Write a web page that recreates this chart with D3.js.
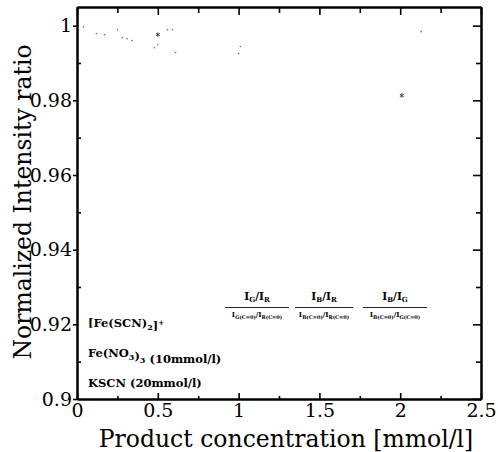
<!DOCTYPE html>
<html>
<head>
<meta charset="utf-8">
<script src="https://cdn.jsdelivr.net/npm/d3@7"></script>
<style>
body { margin: 0; background: #fff; }
svg text { font-family: "DejaVu Serif", serif; fill: #000; }
.axis path, .axis line { stroke: #000; }
.axis path { stroke-width: 2; }
.axis line { stroke-width: 1.6; }
</style>
</head>
<body>
<div id="chart"></div>
<script>
// values
var xTicks = [0, 0.5, 1, 1.5, 2, 2.5],
    xMinor = [0.25, 0.75, 1.25, 1.75, 2.25],
    yTicks = [0.9, 0.92, 0.94, 0.96, 0.98, 1],
    yMinor = [0.91, 0.93, 0.95, 0.97, 0.99];

// faint points that survive in the scan
var dotX = [0.04, 0.12, 0.17, 0.25, 0.28, 0.31, 0.34, 0.48, 0.5, 0.56, 0.59, 0.61, 1.0, 1.01, 2.13],
    dotY = [0.9997, 0.9979, 0.9976, 0.9989, 0.9968, 0.9965, 0.996, 0.9941, 0.9949, 0.9989, 0.9989, 0.9928, 0.9925, 0.9944, 0.9984];
var markX = [0.5, 2.01],
    markY = [0.9976, 0.9813];

var notes = ["[Fe(SCN)2]+", "Fe(NO3)3 (10mmol/l)", "KSCN (20mmol/l)"];
var ratioNum = [["G", "R"], ["B", "R"], ["B", "G"]];

var W = 498, H = 452,
    margin = {top: 7, right: 17, bottom: 53, left: 77},
    width = W - margin.left - margin.right,
    height = H - margin.top - margin.bottom;

var svg = d3.select("#chart").append("svg")
    .attr("width", W)
    .attr("height", H);

var g = svg.append("g")
    .attr("transform", "translate(" + margin.left + "," + margin.top + ")");

var x = d3.scaleLinear().domain([0, 2.5]).range([0, width]),
    y = d3.scaleLinear().domain([0.9, 1.005]).range([height, 0]);

var fmt = function(d) { return String(+d.toFixed(2)); };

// frame: four axes, ticks pointing mostly inward
g.append("g").attr("class", "axis")
    .attr("transform", "translate(0," + height + ")")
    .call(d3.axisBottom(x).tickValues(xTicks).tickFormat(fmt).tickSizeInner(-6).tickSizeOuter(0).tickPadding(5));
g.append("g").attr("class", "axis")
    .attr("transform", "translate(0," + height + ")")
    .call(d3.axisBottom(x).tickValues(xMinor).tickFormat("").tickSizeInner(-3).tickSizeOuter(0));

g.append("g").attr("class", "axis")
    .call(d3.axisTop(x).tickValues(xTicks).tickFormat("").tickSizeInner(-8).tickSizeOuter(0));
g.append("g").attr("class", "axis")
    .call(d3.axisTop(x).tickValues(xMinor).tickFormat("").tickSizeInner(-6).tickSizeOuter(0));

g.append("g").attr("class", "axis")
    .call(d3.axisLeft(y).tickValues(yTicks).tickFormat(fmt).tickSizeInner(4).tickSizeOuter(0).tickPadding(1));
g.append("g").attr("class", "axis")
    .call(d3.axisLeft(y).tickValues(yMinor).tickFormat("").tickSizeInner(-4).tickSizeOuter(0));

g.append("g").attr("class", "axis")
    .attr("transform", "translate(" + width + ",0)")
    .call(d3.axisRight(y).tickValues(yTicks).tickFormat("").tickSizeInner(-8).tickSizeOuter(0));
g.append("g").attr("class", "axis")
    .attr("transform", "translate(" + width + ",0)")
    .call(d3.axisRight(y).tickValues(yMinor).tickFormat("").tickSizeInner(-5).tickSizeOuter(0));

g.selectAll(".axis text")
    .attr("font-family", "DejaVu Serif")
    .attr("font-size", 19)
    .attr("fill", "#000");

// points
g.selectAll(".dot")
    .data(dotX.map(function(d, i) { return [d, dotY[i]]; }))
  .enter().append("circle")
    .attr("class", "dot")
    .attr("cx", function(d) { return x(d[0]); })
    .attr("cy", function(d) { return y(d[1]); })
    .attr("r", 0.8)
    .attr("fill", "#666");

g.selectAll(".mark")
    .data(markX.map(function(d, i) { return [d, markY[i]]; }))
  .enter().append("path")
    .attr("class", "mark")
    .attr("transform", function(d) { return "translate(" + x(d[0]) + "," + y(d[1]) + ")"; })
    .attr("d", d3.symbol().type(d3.symbolAsterisk).size(14))
    .attr("stroke", "#444")
    .attr("stroke-width", 1)
    .attr("fill", "none");

// axis titles
svg.append("text")
    .attr("x", 286)
    .attr("y", 447)
    .attr("text-anchor", "middle")
    .attr("font-size", 23.5)
    .text("Product concentration [mmol/l]");

svg.append("text")
    .attr("transform", "translate(31,202) rotate(-90)")
    .attr("text-anchor", "middle")
    .attr("font-size", 23.5)
    .text("Normalized Intensity ratio");

// sample notes
var noteY = [327, 357, 387];
var note = svg.selectAll(".note")
    .data(notes)
  .enter().append("text")
    .attr("class", "note")
    .attr("x", 88)
    .attr("y", function(d, i) { return noteY[i]; })
    .attr("font-size", 11.5)
    .attr("font-weight", "bold");

note.each(function(d) {
  var t = d3.select(this), buf = "", shift = 0;
  function flush() { if (buf) { t.append("tspan").text(buf); buf = ""; } }
  // a digit right after a letter or ")" is a subscript, a trailing + a superscript
  for (var i = 0; i < d.length; i++) {
    var c = d[i], prev = d[i - 1] || "";
    if (/\d/.test(c) && /[A-Z\)]/.test(prev)) {
      flush();
      t.append("tspan").attr("font-size", 8).attr("dy", 3).text(c);
      t.append("tspan").attr("dy", -3).text("");
    } else if (c === "+" && i === d.length - 1) {
      flush();
      t.append("tspan").attr("font-size", 7).attr("dy", -5).text("+");
    } else {
      buf += c;
    }
  }
  flush();
});

// ratio legend as stacked fractions
var fracX = [257, 324, 395], fracW = [64, 58, 64];
var frac = svg.selectAll(".frac")
    .data(ratioNum)
  .enter().append("g")
    .attr("class", "frac")
    .attr("transform", function(d, i) { return "translate(" + fracX[i] + ",0)"; });

frac.append("line")
    .attr("x1", function(d, i) { return -fracW[i] / 2; })
    .attr("x2", function(d, i) { return fracW[i] / 2; })
    .attr("y1", 307.5).attr("y2", 307.5)
    .attr("stroke", "#222").attr("stroke-width", 1);

frac.append("text")
    .attr("y", 300)
    .attr("text-anchor", "middle")
    .attr("font-size", 10.5)
    .attr("font-weight", "bold")
    .each(function(d) {
      var t = d3.select(this);
      t.append("tspan").text("I");
      t.append("tspan").attr("font-size", 7).attr("dy", 2).text(d[0]);
      t.append("tspan").attr("dy", -2).text("/I");
      t.append("tspan").attr("font-size", 7).attr("dy", 2).text(d[1]);
    });

frac.append("text")
    .attr("y", 317)
    .attr("text-anchor", "middle")
    .attr("font-size", 7)
    .attr("font-weight", "bold")
    .each(function(d) {
      var t = d3.select(this);
      t.append("tspan").text("I");
      t.append("tspan").attr("font-size", 5).attr("dy", 1.5).text(d[0] + "(C=0)");
      t.append("tspan").attr("dy", -1.5).text("/I");
      t.append("tspan").attr("font-size", 5).attr("dy", 1.5).text(d[1] + "(C=0)");
    });
</script>
</body>
</html>
